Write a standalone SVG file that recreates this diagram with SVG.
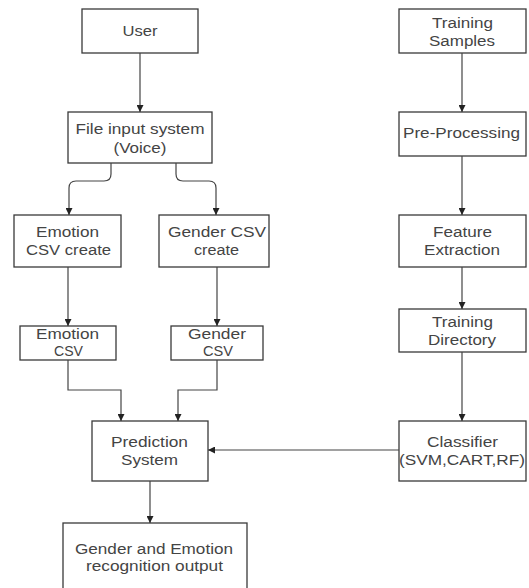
<svg xmlns="http://www.w3.org/2000/svg" width="529" height="588" viewBox="0 0 529 588">
  <defs>
    <marker id="arrow" viewBox="0 0 10 10" refX="10" refY="5" markerWidth="7" markerHeight="7" markerUnits="userSpaceOnUse" orient="auto">
      <path d="M0,0 L10,5 L0,10 z" fill="#222"/>
    </marker>
    <style>
      .box { fill: #ffffff; stroke: #3a3a3a; stroke-width: 1.3; }
      .lbl { font-family: "Liberation Sans", Arial, sans-serif; font-size: 15.5px; fill: #444; text-anchor: middle; }
      .edge { fill: none; stroke: #444; stroke-width: 1.2; marker-end: url(#arrow); }
    </style>
  </defs>
  <rect width="529" height="588" fill="#ffffff"/>

  <!-- left column: user input pipeline -->
  <g id="user">
    <rect class="box" x="82" y="9" width="116" height="44"/>
    <text class="lbl" x="140" y="36" textLength="35" lengthAdjust="spacingAndGlyphs">User</text>
  </g>
  <g id="file-input">
    <rect class="box" x="68" y="112" width="144" height="51"/>
    <text class="lbl" x="140" y="134" textLength="129" lengthAdjust="spacingAndGlyphs">File input system</text>
    <text class="lbl" x="140" y="153" textLength="53" lengthAdjust="spacingAndGlyphs">(Voice)</text>
  </g>
  <g id="emotion-csv-create">
    <rect class="box" x="14" y="215" width="107" height="52"/>
    <text class="lbl" x="67.5" y="237" textLength="63" lengthAdjust="spacingAndGlyphs">Emotion</text>
    <text class="lbl" x="68.5" y="255" textLength="85" lengthAdjust="spacingAndGlyphs">CSV create</text>
  </g>
  <g id="gender-csv-create">
    <rect class="box" x="159" y="215" width="110" height="52"/>
    <text class="lbl" x="217" y="237" textLength="98" lengthAdjust="spacingAndGlyphs">Gender CSV</text>
    <text class="lbl" x="216.5" y="255" textLength="45" lengthAdjust="spacingAndGlyphs">create</text>
  </g>
  <g id="emotion-csv">
    <rect class="box" x="20" y="326" width="96" height="34"/>
    <text class="lbl" x="67.5" y="339" textLength="63" lengthAdjust="spacingAndGlyphs">Emotion</text>
    <text class="lbl" x="68.5" y="356" textLength="29" lengthAdjust="spacingAndGlyphs">CSV</text>
  </g>
  <g id="gender-csv">
    <rect class="box" x="171" y="326" width="92" height="34"/>
    <text class="lbl" x="217" y="339" textLength="58" lengthAdjust="spacingAndGlyphs">Gender</text>
    <text class="lbl" x="218" y="356" textLength="30" lengthAdjust="spacingAndGlyphs">CSV</text>
  </g>
  <g id="prediction">
    <rect class="box" x="92" y="421" width="116" height="60"/>
    <text class="lbl" x="149.5" y="447" textLength="77" lengthAdjust="spacingAndGlyphs">Prediction</text>
    <text class="lbl" x="149.5" y="465" textLength="57" lengthAdjust="spacingAndGlyphs">System</text>
  </g>
  <g id="output">
    <rect class="box" x="63" y="523" width="184" height="75"/>
    <text class="lbl" x="154" y="554" textLength="158" lengthAdjust="spacingAndGlyphs">Gender and Emotion</text>
    <text class="lbl" x="154.5" y="571" textLength="137" lengthAdjust="spacingAndGlyphs">recognition output</text>
  </g>

  <!-- right column: training pipeline -->
  <g id="training-samples">
    <rect class="box" x="399" y="9" width="127" height="44"/>
    <text class="lbl" x="462.5" y="28" textLength="61" lengthAdjust="spacingAndGlyphs">Training</text>
    <text class="lbl" x="462" y="46" textLength="66" lengthAdjust="spacingAndGlyphs">Samples</text>
  </g>
  <g id="pre-processing">
    <rect class="box" x="399" y="112" width="127" height="44"/>
    <text class="lbl" x="461.5" y="138" textLength="117" lengthAdjust="spacingAndGlyphs">Pre-Processing</text>
  </g>
  <g id="feature-extraction">
    <rect class="box" x="399" y="215" width="127" height="52"/>
    <text class="lbl" x="462.5" y="237" textLength="59" lengthAdjust="spacingAndGlyphs">Feature</text>
    <text class="lbl" x="462" y="255" textLength="76" lengthAdjust="spacingAndGlyphs">Extraction</text>
  </g>
  <g id="training-directory">
    <rect class="box" x="399" y="309" width="127" height="43"/>
    <text class="lbl" x="462.5" y="327" textLength="61" lengthAdjust="spacingAndGlyphs">Training</text>
    <text class="lbl" x="462" y="345" textLength="68" lengthAdjust="spacingAndGlyphs">Directory</text>
  </g>
  <g id="classifier">
    <rect class="box" x="399" y="421" width="127" height="60"/>
    <text class="lbl" x="462.5" y="447" textLength="71" lengthAdjust="spacingAndGlyphs">Classifier</text>
    <text class="lbl" x="462" y="465" textLength="126" lengthAdjust="spacingAndGlyphs">(SVM,CART,RF)</text>
  </g>

  <g id="connectors">
    <path class="edge" d="M140,53 V112"/>
    <path class="edge" d="M111,163 V174 Q111,181 104,181 H76 Q69,181 69,188 V215"/>
    <path class="edge" d="M176,163 V174 Q176,181 183,181 H209 Q216,181 216,188 V215"/>
    <path class="edge" d="M68,267 V326"/>
    <path class="edge" d="M217,267 V326"/>
    <path class="edge" d="M68,360 V390 H121 V421"/>
    <path class="edge" d="M217,360 V390 H178 V421"/>
    <path class="edge" d="M150,481 V523"/>
    <path class="edge" d="M462,53 V112"/>
    <path class="edge" d="M462,156 V215"/>
    <path class="edge" d="M462,267 V309"/>
    <path class="edge" d="M462,352 V421"/>
    <path class="edge" d="M399,450 H208"/>
  </g>
</svg>
